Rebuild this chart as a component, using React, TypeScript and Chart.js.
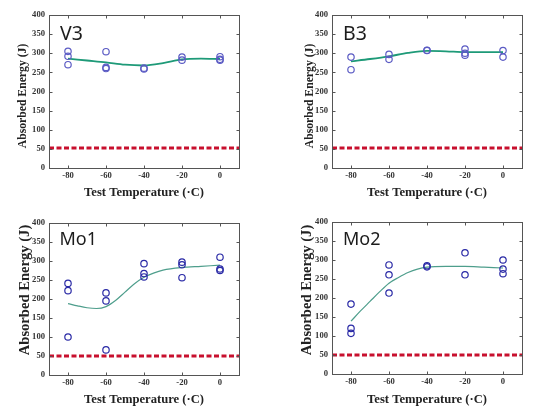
import React, { useEffect, useRef } from 'react';
import { Chart, registerables } from 'chart.js';

Chart.register(...registerables);

// ---------- data ----------
const xTickValues = [-80, -60, -40, -20, 0];
const yTickValues = [0, 50, 100, 150, 200, 250, 300, 350, 400];
const xAxisTitle = 'Test Temperature (·C)';
const yAxisTitle = 'Absorbed Energy (J)';
const requirementX = [-90, 10];
const requirementTop = 52;
const requirementBottom = 50;

const v3TestX = [-80, -80, -80, -60, -60, -60, -40, -40, -20, -20, 0, 0, 0];
const v3Energy = [305, 292, 270, 304, 263, 260, 261, 259, 290, 282, 291, 284, 282];
const v3FitX = [-80, -70, -60, -50, -40, -30, -20, -10, 0];
const v3FitY = [286, 281, 276, 270, 268, 274, 284, 286, 285];

const b3TestX = [-80, -80, -60, -60, -40, -40, -20, -20, -20, 0, 0];
const b3Energy = [290, 257, 297, 284, 308, 307, 311, 300, 295, 307, 290];
const b3FitX = [-80, -70, -60, -50, -40, -30, -20, -10, 0];
const b3FitY = [279, 285, 292, 301, 306, 305, 303, 303, 303];

const mo1TestX = [-80, -80, -80, -60, -60, -60, -40, -40, -40, -20, -20, -20, 0, 0, 0];
const mo1Energy = [241, 222, 100, 216, 195, 66, 293, 267, 258, 297, 290, 256, 310, 279, 275];
const mo1FitX = [-80, -75, -70, -65, -60, -55, -50, -45, -40, -35, -30, -20, -10, 0];
const mo1FitY = [188, 182, 177, 175, 180, 196, 218, 240, 257, 268, 276, 283, 286, 289];

const mo2TestX = [-80, -80, -80, -60, -60, -60, -40, -40, -20, -20, 0, 0, 0];
const mo2Energy = [184, 120, 107, 287, 261, 213, 285, 282, 319, 261, 300, 276, 264];
const mo2FitX = [-80, -75, -70, -65, -60, -55, -50, -45, -40, -30, -20, -10, 0];
const mo2FitY = [139, 166, 191, 216, 239, 254, 267, 276, 281, 283, 283, 281, 279];

// ---------- panel layout / style ----------
type Panel = {
  label: string; tx: number[]; ty: number[]; fx: number[]; fy: number[]; req: number;
  left: number; top: number; w: number; h: number;
  padTop: number; padRight: number; yAxisW: number; xAxisH: number;
  labelX: number; labelY: number; labelSize: number;
  yTitleX: number; yTitleY: number; yTitleSize: number; xTitleY: number;
  pointColor: string; fitColor: string; fitWidth: number;
};

const panels: Panel[] = [
  {
    label: 'V3', tx: v3TestX, ty: v3Energy, fx: v3FitX, fy: v3FitY, req: requirementTop,
    left: 0, top: 0, w: 267, h: 209, padTop: 15, padRight: 28, yAxisW: 49, xAxisH: 41,
    labelX: 60, labelY: 40, labelSize: 19.5, yTitleX: 23, yTitleY: 96, yTitleSize: 11.7, xTitleY: 193,
    pointColor: '#5b5bc4', fitColor: '#1e9a78', fitWidth: 1.8,
  },
  {
    label: 'B3', tx: b3TestX, ty: b3Energy, fx: b3FitX, fy: b3FitY, req: requirementTop,
    left: 267, top: 0, w: 267, h: 209, padTop: 15, padRight: 12, yAxisW: 65, xAxisH: 41,
    labelX: 76, labelY: 40, labelSize: 19.5, yTitleX: 43, yTitleY: 96, yTitleSize: 11.7, xTitleY: 193,
    pointColor: '#5b5bc4', fitColor: '#1e9a78', fitWidth: 1.8,
  },
  {
    label: 'Mo1', tx: mo1TestX, ty: mo1Energy, fx: mo1FitX, fy: mo1FitY, req: requirementBottom,
    left: 0, top: 209, w: 267, h: 209, padTop: 14, padRight: 28, yAxisW: 49, xAxisH: 43,
    labelX: 59.5, labelY: 36, labelSize: 18, yTitleX: 25, yTitleY: 81, yTitleSize: 14.6, xTitleY: 191,
    pointColor: '#2a2aa6', fitColor: '#4e9e8c', fitWidth: 1.2,
  },
  {
    label: 'Mo2', tx: mo2TestX, ty: mo2Energy, fx: mo2FitX, fy: mo2FitY, req: requirementBottom,
    left: 267, top: 209, w: 267, h: 209, padTop: 13, padRight: 12, yAxisW: 65, xAxisH: 44,
    labelX: 76, labelY: 36, labelSize: 18, yTitleX: 40, yTitleY: 81, yTitleSize: 14.6, xTitleY: 191,
    pointColor: '#2a2aa6', fitColor: '#4e9e8c', fitWidth: 1.2,
  },
];

const SERIF = '"Liberation Serif", "Times New Roman", serif';

const framePlugin = {
  id: 'panelFrame',
  afterDraw(chart: any, _args: any, o: any) {
    const { ctx, chartArea: a, scales } = chart;
    ctx.save();
    ctx.strokeStyle = '#555';
    ctx.lineWidth = 1;
    const L = Math.round(a.left) + 0.5;
    const T = Math.round(a.top) + 0.5;
    const R = Math.round(a.right) + 0.5;
    const B = Math.round(a.bottom) + 0.5;
    ctx.strokeRect(L, T, R - L, B - T);
    const tl = 3;
    ctx.beginPath();
    xTickValues.forEach((v) => {
      const px = Math.round(scales.x.getPixelForValue(v)) + 0.5;
      ctx.moveTo(px, B); ctx.lineTo(px, B - tl);
      ctx.moveTo(px, T); ctx.lineTo(px, T + tl);
    });
    yTickValues.forEach((v) => {
      const py = Math.round(scales.y.getPixelForValue(v)) + 0.5;
      ctx.moveTo(L, py); ctx.lineTo(L + tl, py);
      ctx.moveTo(R, py); ctx.lineTo(R - tl, py);
    });
    ctx.stroke();

    ctx.fillStyle = '#1c1c1c';
    ctx.font = `${o.labelSize}px "Noto Sans", sans-serif`;
    ctx.textAlign = 'left';
    ctx.textBaseline = 'alphabetic';
    ctx.fillText(o.label, o.labelX, o.labelY);

    ctx.fillStyle = '#222';
    ctx.font = `bold 12.6px ${SERIF}`;
    ctx.textAlign = 'center';
    ctx.textBaseline = 'middle';
    ctx.fillText(xAxisTitle, (a.left + a.right) / 2, o.xTitleY);

    ctx.translate(o.yTitleX, o.yTitleY);
    ctx.rotate(-Math.PI / 2);
    ctx.font = `bold ${o.yTitleSize}px ${SERIF}`;
    ctx.fillText(yAxisTitle, 0, 0);
    ctx.restore();
  },
};

function PanelChart({ p }: { p: Panel }) {
  const ref = useRef<HTMLCanvasElement | null>(null);
  useEffect(() => {
    if (!ref.current) return;
    const chart = new Chart(ref.current, {
      type: 'scatter',
      data: {
        datasets: [
          {
            type: 'scatter',
            data: p.tx.map((x, i) => ({ x, y: p.ty[i] })),
            pointStyle: 'circle',
            pointRadius: 3.2,
            pointBorderWidth: 1.2,
            borderColor: p.pointColor,
            backgroundColor: 'rgba(0,0,0,0)',
            order: 1,
          } as any,
          {
            type: 'line',
            data: p.fx.map((x, i) => ({ x, y: p.fy[i] })),
            borderColor: p.fitColor,
            borderWidth: p.fitWidth,
            pointRadius: 0,
            tension: 0.4,
            cubicInterpolationMode: 'monotone',
            fill: false,
            order: 2,
          } as any,
          {
            type: 'line',
            data: requirementX.map((x) => ({ x, y: p.req })),
            borderColor: '#c8102e',
            borderWidth: 3,
            borderDash: [5, 2.5],
            pointRadius: 0,
            fill: false,
            order: 3,
          } as any,
        ],
      },
      options: {
        animation: false,
        responsive: false,
        events: [],
        layout: { padding: { left: 0, top: p.padTop, right: p.padRight, bottom: 0 } },
        plugins: {
          legend: { display: false },
          tooltip: { enabled: false },
          panelFrame: {
            label: p.label, labelX: p.labelX, labelY: p.labelY, labelSize: p.labelSize,
            yTitleX: p.yTitleX, yTitleY: p.yTitleY, yTitleSize: p.yTitleSize, xTitleY: p.xTitleY,
          },
        } as any,
        scales: {
          x: {
            type: 'linear',
            min: -90,
            max: 10,
            grid: { display: false, drawTicks: false },
            border: { display: false },
            afterBuildTicks: (s: any) => { s.ticks = xTickValues.map((v) => ({ value: v })); },
            afterFit: (s: any) => { s.height = p.xAxisH; },
            ticks: {
              padding: 3,
              color: '#333',
              font: { family: SERIF, size: 8.6, weight: 'bold' },
              callback: (v: any) => String(v),
              maxRotation: 0,
            },
          },
          y: {
            type: 'linear',
            min: 0,
            max: 400,
            grid: { display: false, drawTicks: false },
            border: { display: false },
            afterBuildTicks: (s: any) => { s.ticks = yTickValues.map((v) => ({ value: v })); },
            afterFit: (s: any) => { s.width = p.yAxisW; },
            ticks: {
              padding: 4,
              color: '#333',
              font: { family: SERIF, size: 8.6, weight: 'bold' },
              callback: (v: any) => String(v),
            },
          },
        },
      } as any,
      plugins: [framePlugin],
    });
    return () => chart.destroy();
  }, [p]);
  return (
    <canvas
      ref={ref}
      width={p.w}
      height={p.h}
      style={{ position: 'absolute', left: p.left, top: p.top, width: p.w, height: p.h }}
    />
  );
}

export default function App() {
  return (
    <div style={{ position: 'fixed', left: 0, top: 0, width: 534, height: 418, background: '#fff' }}>
      {panels.map((p) => (
        <PanelChart key={p.label} p={p} />
      ))}
    </div>
  );
}
